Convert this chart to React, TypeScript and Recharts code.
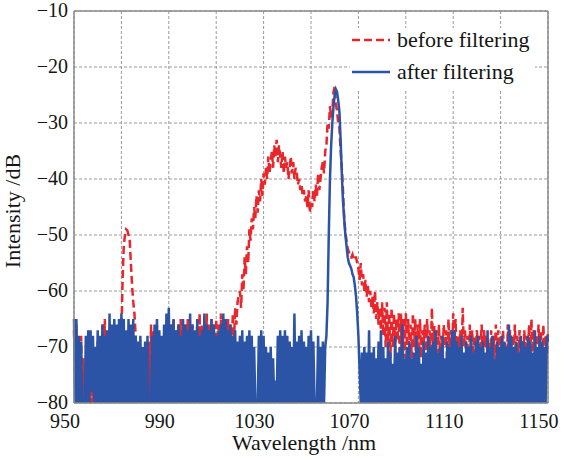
import React from 'react';
import { LineChart, Line, XAxis, YAxis, CartesianGrid, Legend, ReferenceLine } from 'recharts';

const theme = {
  red: '#e8262b',
  blue: '#2c54a6',
  grid: '#9a9a9a',
  frame: '#8a8a8a',
  text: '#151515',
  font: '"Liberation Serif", "Times New Roman", serif',
};

// sampling grid of the spectrum (nm)
const startNm = 950;
const stepNm = 0.5;

const xTicks = [950, 970, 990, 1010, 1030, 1050, 1070, 1090, 1110, 1130, 1150];
const xLabels = [950, 990, 1030, 1070, 1110, 1150];
const yTicks = [-80, -70, -60, -50, -40, -30, -20, -10];
const seriesOrder = ['before filtering', 'after filtering'];

// intensity (dB) every 0.5 nm, one row per 10 nm
const beforeFiltering = [
  -67, -80, -66, -78, -70, -80, -68, -80, -72, -80, -74, -80, -70, -80, -69, -80, -72, -80, -70, -80,
  -69, -80, -70, -80, -66, -78, -65, -80, -70, -80, -72, -80, -71, -80, -68, -80, -70, -78, -72, -78,
  -68, -58, -52, -50, -49, -49.2, -50, -51, -55, -59, -62, -64, -68, -72, -80, -71, -80, -73, -80, -70,
  -80, -72, -80, -69, -80, -66, -80, -67, -74, -80, -66, -80, -70, -78, -72, -80, -69, -80, -71, -80,
  -68, -80, -66, -78, -65, -80, -67, -80, -66, -80, -65, -80, -67, -76, -66, -80, -65, -78, -67, -80,
  -66, -78, -68, -80, -65, -80, -64, -80, -66, -78, -67, -80, -64, -79, -66, -80, -65, -78, -66, -80,
  -65, -78, -66, -80, -64, -77, -65, -80, -66, -74, -65, -78, -66, -72, -64, -69, -63, -66, -62, -61,
  -60, -63, -57, -60, -54, -57, -52, -55, -49, -51, -47, -49, -45, -47, -43, -46, -42, -44, -40, -43,
  -39, -41, -38, -40, -36, -39, -37, -35, -38, -34, -36, -33, -37, -34, -36, -38, -35, -39, -36, -38,
  -37, -40, -38, -36, -39, -37, -40, -38, -39, -41, -40, -42, -41, -43, -42, -44, -43, -45, -42, -46,
  -44, -45, -42, -44, -41, -43, -39, -42, -40, -38, -37, -39, -35, -34, -30, -31, -27, -29, -28, -24.5,
  -23.5, -26.5, -28, -30, -31, -35, -38, -42, -47, -49.5, -51, -52.5, -53, -54, -54, -53.5, -54.5, -54, -54, -55,
  -56, -58, -55, -59, -57, -60, -58, -61, -59, -62, -60, -63, -61, -64, -60, -65, -62, -66, -63, -67,
  -62, -68, -63, -70, -62, -69, -64, -72, -63, -70, -64, -71, -65, -69, -64, -73, -64, -80, -65, -72,
  -64, -70, -65, -71, -66, -72, -64, -70, -65, -80, -66, -71, -65, -72, -67, -70, -66, -73, -65, -71,
  -67, -72, -63, -70, -66, -80, -67, -71, -66, -73, -68, -72, -66, -70, -67, -74, -65, -71, -67, -72,
  -64, -70, -65, -72, -68, -71, -67, -73, -63, -70, -67, -72, -68, -80, -66, -71, -67, -73, -68, -70,
  -67, -72, -68, -71, -66, -73, -67, -70, -68, -72, -69, -74, -67, -71, -68, -72, -66, -73, -67, -70,
  -68, -72, -67, -71, -69, -80, -66, -72, -67, -70, -68, -73, -66, -71, -68, -72, -67, -70, -69, -73,
  -67, -71, -68, -72, -66, -73, -65, -71, -67, -70, -68, -72, -66, -71, -67, -73, -66, -70, -68, -71,
  -67,
];

const afterFiltering = [
  -65, -80, -65, -80, -68, -80, -69, -80, -80, -80, -68, -80, -67, -80, -67, -78, -68, -80, -70, -80,
  -67, -80, -68, -80, -66, -80, -68, -80, -67, -80, -64, -80, -66, -80, -65, -80, -66, -80, -65, -80,
  -64, -80, -65, -80, -67, -80, -65, -80, -66, -80, -65, -80, -68, -80, -69, -80, -68, -80, -70, -80,
  -69, -80, -68, -80, -80, -80, -68, -80, -66, -80, -65, -80, -67, -80, -68, -80, -66, -80, -64, -80,
  -63, -80, -66, -80, -65, -80, -67, -80, -66, -80, -68, -80, -65, -80, -66, -80, -67, -80, -64, -80,
  -66, -80, -67, -80, -65, -80, -68, -80, -67, -80, -64, -80, -66, -80, -67, -80, -65, -80, -66, -80,
  -68, -80, -67, -80, -66, -80, -64, -80, -65, -80, -67, -80, -66, -80, -68, -80, -67, -80, -69, -80,
  -68, -80, -67, -80, -69, -80, -68, -80, -67, -80, -68, -80, -70, -80, -80, -80, -68, -80, -67, -80,
  -68, -80, -70, -80, -71, -80, -70, -80, -72, -80, -76, -80, -68, -80, -67, -80, -68, -80, -67, -80,
  -68, -80, -69, -80, -70, -80, -64, -80, -69, -80, -68, -80, -67, -80, -69, -80, -70, -80, -68, -80,
  -67, -80, -69, -80, -80, -80, -68, -80, -70, -80, -69, -80, -70, -68, -62, -50, -40, -34, -30, -27,
  -25, -24, -24.5, -26, -28, -33, -39, -44, -47, -50, -52, -54, -55, -55.5, -56, -57, -57.5, -59, -61, -64,
  -68, -74, -80, -71, -80, -70, -80, -71, -80, -67, -80, -71, -80, -70, -80, -72, -80, -69, -80, -67,
  -80, -70, -80, -72, -80, -69, -80, -71, -80, -73, -80, -68, -80, -71, -80, -70, -80, -66, -80, -72,
  -80, -70, -80, -69, -80, -72, -80, -71, -80, -68, -80, -70, -80, -73, -80, -69, -80, -71, -80, -68,
  -80, -70, -80, -69, -80, -67, -80, -71, -80, -70, -80, -68, -80, -72, -80, -69, -80, -70, -80, -67,
  -80, -67, -80, -69, -80, -70, -80, -68, -80, -71, -80, -69, -80, -70, -80, -68, -80, -71, -80, -69,
  -80, -68, -80, -70, -80, -69, -80, -71, -80, -67, -80, -70, -80, -68, -80, -72, -80, -69, -80, -70,
  -80, -68, -80, -69, -80, -70, -80, -66, -80, -68, -80, -70, -80, -69, -80, -71, -80, -68, -80, -69,
  -80, -70, -80, -68, -80, -69, -80, -71, -80, -67, -80, -70, -80, -68, -80, -69, -80, -70, -80, -68,
  -69,
];

const data = beforeFiltering.map((v, i) => ({
  nm: startNm + i * stepNm,
  before: v,
  after: afterFiltering[i],
}));

const XTick = ({ x, y, payload }: any) =>
  xLabels.includes(payload.value) ? (
    <text x={x - 9} y={y + 17} textAnchor="middle" fontSize={20} fontFamily={theme.font} fill={theme.text}>
      {payload.value}
    </text>
  ) : (
    <g />
  );

const YTick = ({ x, y, payload }: any) => (
  <text x={x} y={y + 6} textAnchor="end" fontSize={20} fontFamily={theme.font} fill={theme.text}>
    {payload.value < 0 ? `\u2212${Math.abs(payload.value)}` : payload.value}
  </text>
);

const XTitle = ({ viewBox }: any) => (
  <text x={viewBox.x + viewBox.width / 2 - 7} y={viewBox.y + 47} textAnchor="middle" fontSize={22} fontFamily={theme.font} fill={theme.text}>
    Wavelength /nm
  </text>
);

const YTitle = ({ viewBox }: any) => {
  const cx = 20;
  const cy = viewBox.y + viewBox.height / 2 + 4;
  return (
    <text x={cx} y={cy} transform={`rotate(-90 ${cx} ${cy})`} textAnchor="middle" fontSize={22} fontFamily={theme.font} fill={theme.text}>
      Intensity /dB
    </text>
  );
};

const LegendBox = ({ payload }: any) => {
  const items = [...(payload ?? [])].sort((a: any, b: any) => seriesOrder.indexOf(a.value) - seriesOrder.indexOf(b.value));
  return (
    <div style={{ background: '#fff', width: 185, padding: '0 0 6px 0', display: 'flex', flexDirection: 'column', gap: 8 }}>
      {items.map((p: any) => (
        <div key={p.value} style={{ display: 'flex', alignItems: 'center', height: 24 }}>
          <svg width={40} height={6} style={{ marginLeft: 2 }}>
            <line x1={0} y1={3} x2={38} y2={3} stroke={p.color} strokeWidth={2.5} strokeDasharray={p.payload?.strokeDasharray} />
          </svg>
          <span style={{ marginLeft: 5, fontFamily: theme.font, fontSize: 22, color: theme.text, lineHeight: '24px' }}>{p.value}</span>
        </div>
      ))}
    </div>
  );
};

export default function App() {
  return (
    <div style={{ position: 'absolute', left: 0, top: 0, width: 562, height: 459, background: '#fff' }}>
      <LineChart width={562} height={459} data={data} margin={{ top: 11, right: 14, bottom: 0, left: 0 }}>
        <CartesianGrid stroke={theme.grid} strokeDasharray="3 2" />
        <XAxis
          dataKey="nm"
          type="number"
          domain={[950, 1150]}
          ticks={xTicks}
          interval={0}
          height={56}
          tickLine={false}
          axisLine={{ stroke: theme.frame, strokeWidth: 1.5 }}
          tick={<XTick />}
          label={<XTitle />}
        />
        <YAxis
          type="number"
          domain={[-80, -10]}
          ticks={yTicks}
          interval={0}
          width={74}
          allowDataOverflow
          tickLine={false}
          tickMargin={0}
          axisLine={{ stroke: theme.frame, strokeWidth: 1.5 }}
          tick={<YTick />}
          label={<YTitle />}
        />
        <ReferenceLine y={-10} stroke={theme.frame} strokeWidth={1.5} />
        <ReferenceLine x={1150} stroke={theme.frame} strokeWidth={1.5} />
        <Legend
          layout="horizontal"
          verticalAlign="middle"
          align="center"
          content={<LegendBox />}
          wrapperStyle={{ top: 28, left: 350, width: 185, height: 'auto' }}
        />
        <Line
          type="linear"
          dataKey="before"
          name="before filtering"
          stroke={theme.red}
          strokeWidth={2.5}
          strokeDasharray="8 4"
          dot={false}
          activeDot={false}
          isAnimationActive={false}
        />
        <Line
          type="linear"
          dataKey="after"
          name="after filtering"
          stroke={theme.blue}
          strokeWidth={2.5}
          dot={false}
          activeDot={false}
          isAnimationActive={false}
        />
      </LineChart>
    </div>
  );
}
